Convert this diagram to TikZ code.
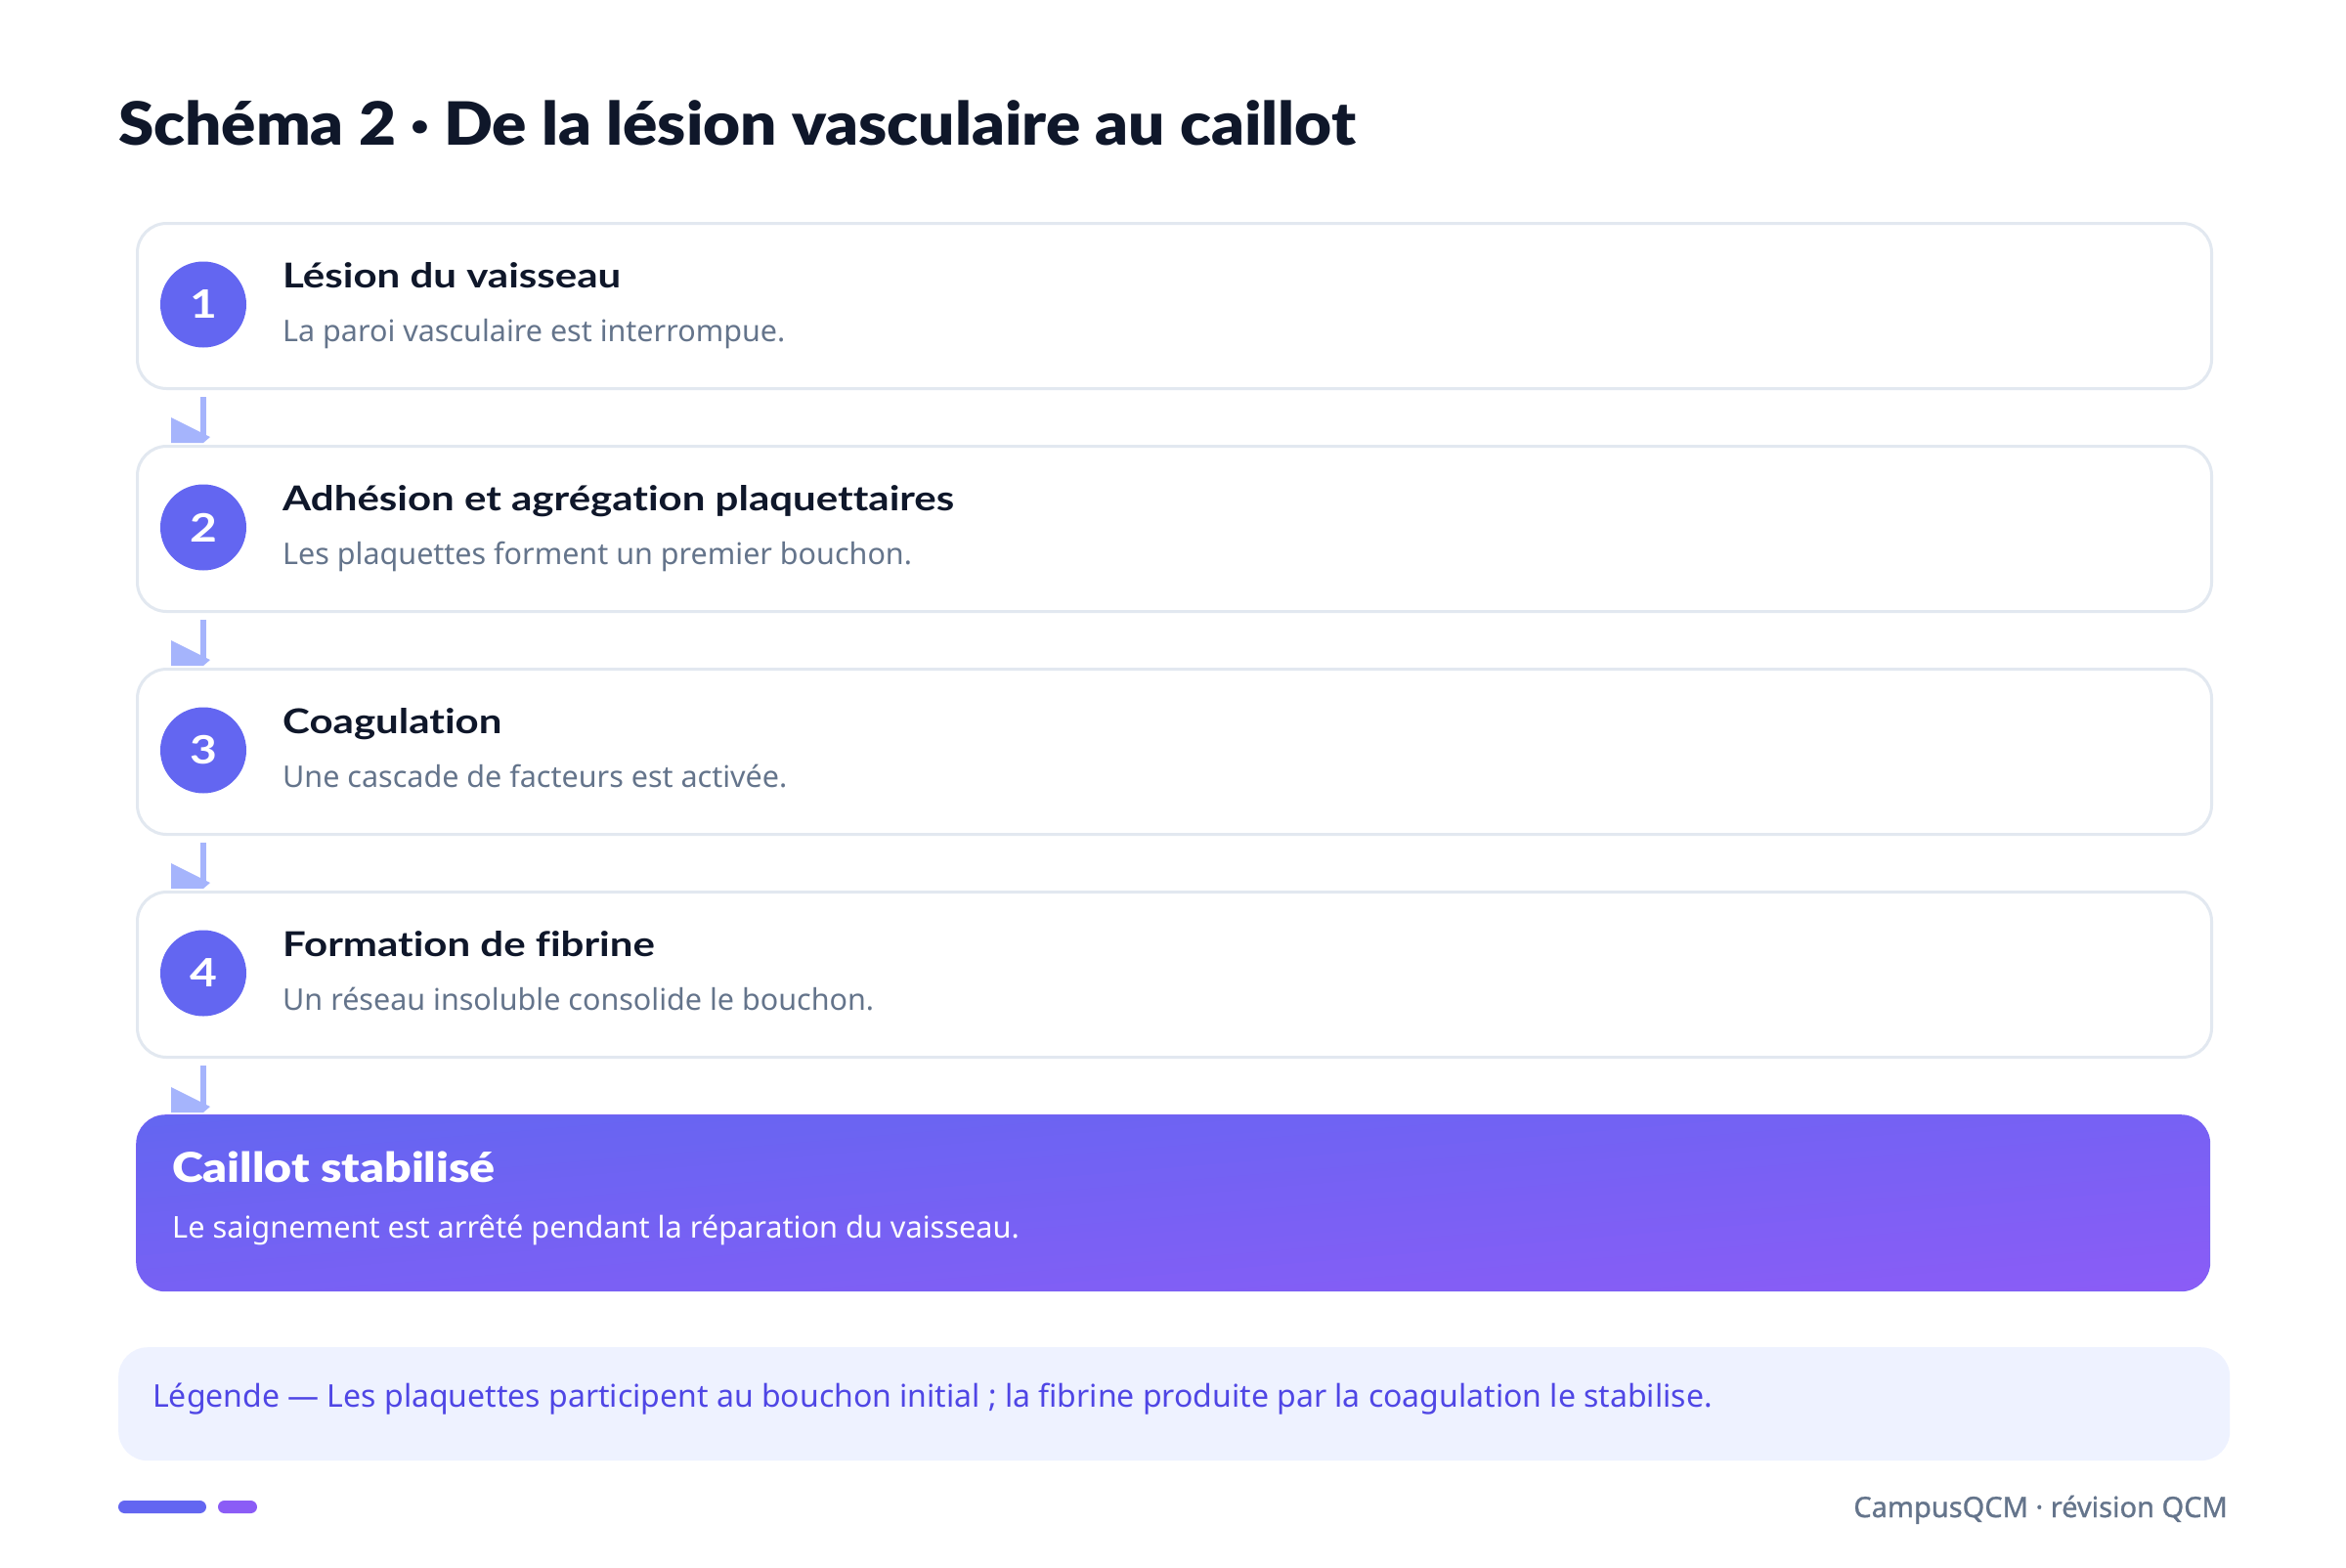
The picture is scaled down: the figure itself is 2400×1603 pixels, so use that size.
\documentclass[tikz,border=0pt]{standalone}
\usepackage{fontspec}
\setmainfont{Noto Sans}
\IfFontExistsTF{Lato Bold}{\newfontfamily\boldf{Lato Bold}[FakeStretch=1.2,Ligatures=NoCommon]}{\newfontfamily\boldf{Noto Sans}[FakeBold=2]}
\IfFontExistsTF{Lato Black}{\newfontfamily\blackf{Lato Black}[FakeStretch=1.075,Ligatures=NoCommon]}{\newfontfamily\blackf{Noto Sans}[FakeBold=3]}
\IfFontExistsTF{Lato Black}{\newfontfamily\blackwf{Lato Black}[FakeStretch=1.15,Ligatures=NoCommon]}{\newfontfamily\blackwf{Noto Sans}[FakeBold=3]}
\newfontfamily\semif{Noto Sans}[FakeBold=1]
\usetikzlibrary{calc}
\definecolor{ink}{HTML}{0F172A}
\definecolor{muted}{HTML}{64748B}
\definecolor{edge}{HTML}{E2E8F0}
\definecolor{indig}{HTML}{6366F1}
\definecolor{viol}{HTML}{8B5CF6}
\definecolor{arrowc}{HTML}{A5B4FC}
\definecolor{legfill}{HTML}{EEF2FF}
\definecolor{legtext}{HTML}{4F46E5}
\tikzset{
  stepbox/.style={draw=edge, line width=3pt, fill=white, rounded corners=30pt,
    minimum width=2122pt, minimum height=169pt, anchor=north west, inner sep=0pt},
  numdot/.style={circle, fill=indig, minimum size=88pt, inner sep=0pt, text=white,
    font=\fontsize{40}{44}\boldf},
  steptitle/.style={anchor=base west, inner sep=0pt, text=ink, font=\fontsize{35}{42}\boldf},
  stepsub/.style={anchor=base west, inner sep=0pt, text=muted, font=\fontsize{30.5}{36}\selectfont},
  conn/.style={draw=arrowc, line width=6pt},
}
\newcommand\headat[1]{\fill[arrowc] (#1) ++(-33,-20) -- ++(40,20) -- ++(-7,6) -- ++(-33,0) -- cycle;}
\begin{document}
\begin{tikzpicture}[x=1pt,y=-1pt]
\useasboundingbox (0,0) rectangle (2400,1603);
\fill[white] (0,0) rectangle (2400,1603);
\node[anchor=base west, inner sep=0pt, text=ink, font=\fontsize{61}{70}\blackf] (title) at (121,148) {Schéma 2 · De la lésion vasculaire au caillot};
\foreach \i/\t/\s in {1/{Lésion du vaisseau}/{La paroi vasculaire est interrompue.},
  2/{Adhésion et agrégation plaquettaires}/{Les plaquettes forment un premier bouchon.},
  3/{Coagulation}/{Une cascade de facteurs est activée.},
  4/{Formation de fibrine}/{Un réseau insoluble consolide le bouchon.}}{
  \pgfmathsetmacro\tp{227+228*(\i-1)}
  \node[stepbox] (box\i) at (139,\tp) {};
  \node[numdot] (num\i) at (208,\tp+84.5) {\i};
  \node[steptitle] (tt\i) at (289,\tp+67) {\t};
  \node[stepsub] (ts\i) at (289,\tp+122) {\s};
}
% final box: diagonal (bounding-box) gradient, indigo top-left to violet bottom-right
\node[anchor=north west, minimum width=2122pt, minimum height=181pt, inner sep=0pt,
  fill=indig!50!viol, rounded corners=30pt] (final) at (139,1140) {};
\begin{scope}
  \clip[rounded corners=29pt] ([shift={(1,1)}]final.north west) rectangle ([shift={(-1,-1)}]final.south east);
  \foreach \k in {0,...,49}{
    \pgfmathsetmacro\ta{\k*0.04}
    \pgfmathsetmacro\tb{\ta+0.046}
    \pgfmathsetmacro\pc{100-(\k+0.5)*2}
    \fill[indig!\pc!viol] ({139+2122*(\ta+1)},959) -- ({139+2122*(\ta-2)},1502)
      -- ({139+2122*(\tb-2)},1502) -- ({139+2122*(\tb+1)},959) -- cycle;
  }
\end{scope}
\node[anchor=base west, inner sep=0pt, text=white, font=\fontsize{42}{48}\blackwf] (ftitle) at (176,1209) {Caillot stabilisé};
\node[anchor=base west, inner sep=0pt, text=white, font=\fontsize{30.7}{36}\selectfont] (fsub) at (176,1266) {Le saignement est arrêté pendant la réparation du vaisseau.};
\foreach \a/\b in {box1/box2,box2/box3,box3/box4,box4/final}{
  \coordinate (s-\a) at ([xshift=69pt,yshift=-7pt]\a.south west);
  \coordinate (e-\a) at ([xshift=69pt,yshift=8pt]\b.north west);
  \draw[conn] (s-\a) -- (e-\a);
  \headat{e-\a}
}
\node[anchor=north west, fill=legfill, rounded corners=30pt, minimum width=2160pt,
  minimum height=116pt, inner sep=0pt] (legend) at (121,1378) {};
\node[anchor=base west, inner sep=0pt, text=legtext, font=\fontsize{32}{36}\selectfont] (legtxt) at (156,1439) {Légende — Les plaquettes participent au bouchon initial ; la fibrine produite par la coagulation le stabilise.};
\fill[indig, rounded corners=6.5pt] (121,1535) rectangle (211,1548);
\fill[viol, rounded corners=6.5pt] (223,1535) rectangle (263,1548);
\node[anchor=base east, inner sep=0pt, text=muted, font=\fontsize{29}{34}\semif] (footer) at (2279,1552) {CampusQCM · révision QCM};
\end{tikzpicture}
\end{document}
